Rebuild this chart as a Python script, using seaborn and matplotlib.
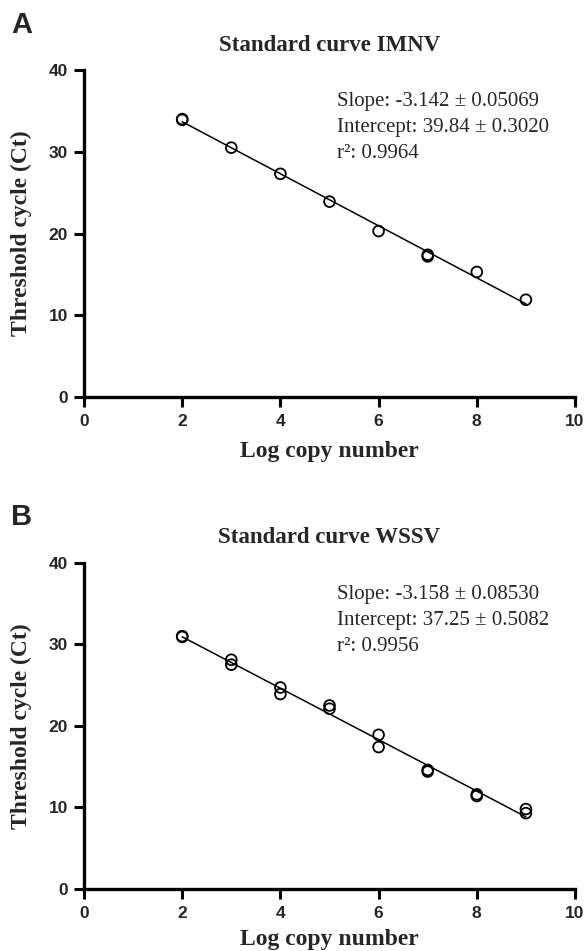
import numpy as np
import pandas as pd
import matplotlib
matplotlib.use("Agg")
import matplotlib.pyplot as plt
import seaborn as sns

### DATA

log_copy_imnv = [2, 2, 3, 4, 5, 6, 7, 7, 8, 9]
ct_imnv = [33.9, 34.0, 30.5, 27.3, 23.9, 20.3, 17.4, 17.2, 15.3, 11.9]

log_copy_wssv = [2, 2, 3, 3, 4, 4, 5, 5, 6, 6, 7, 7, 8, 8, 9, 9]
ct_wssv = [31.0, 30.9, 28.1, 27.5, 24.7, 23.9, 22.5, 22.1,
           18.9, 17.4, 14.6, 14.4, 11.6, 11.4, 9.8, 9.3]

panels = ["A", "B"]
titles = ["Standard curve IMNV", "Standard curve WSSV"]
fit_text = [
    ["Slope: -3.142 ± 0.05069", "Intercept: 39.84 ± 0.3020", "r²: 0.9964"],
    ["Slope: -3.158 ± 0.08530", "Intercept: 37.25 ± 0.5082", "r²: 0.9956"],
]
xticks = [0, 2, 4, 6, 8, 10]
yticks = [0, 10, 20, 30, 40]

### STYLE

sns.set_style("ticks")
plt.rcParams["font.family"] = ["Liberation Serif", "DejaVu Serif"]

serif = "Liberation Serif"
sans = "Liberation Sans"
tick_font = dict(family=sans, fontweight="bold", fontsize=12.5)

fig = plt.figure(figsize=(5.85, 9.51), dpi=100)

axes_rects = [
    [0.1436, 0.5825, 0.8393, 0.3439],
    [0.1436, 0.0652, 0.8393, 0.3431],
]
letter_y = [0.9653, 0.448]
xlabel_y = [-0.134, -0.124]

datasets = [(log_copy_imnv, ct_imnv), (log_copy_wssv, ct_wssv)]

for i, (xs, ys) in enumerate(datasets):
    ax = fig.add_axes(axes_rects[i])
    df = pd.DataFrame({"log_copy": xs, "ct": ys})
    sns.regplot(data=df, x="log_copy", y="ct", ax=ax, ci=None, color="black",
                truncate=True,
                scatter_kws=dict(facecolors="none", s=60, linewidths=1.3, alpha=1, zorder=3),
                line_kws=dict(lw=1.1, color="black"))

    ax.set_xlim(0, 10)
    ax.set_ylim(0, 40)
    ax.set_xticks(xticks, labels=[str(t) for t in xticks], **tick_font)
    ax.set_yticks(yticks, labels=[str(t) for t in yticks], **tick_font)
    for sp in ["top", "right"]:
        ax.spines[sp].set_visible(False)
    for sp in ["left", "bottom"]:
        ax.spines[sp].set_linewidth(2.4)
        ax.spines[sp].set_color("black")
    ax.tick_params(axis="both", length=7.2, width=2.2, color="black")
    ax.tick_params(axis="x", pad=5)
    ax.tick_params(axis="y", pad=4.5)

    ax.set_xlabel("Log copy number", fontsize=17, fontweight="bold", family=serif)
    ax.set_ylabel("Threshold cycle (Ct)", fontsize=17, fontweight="bold", family=serif)
    ax.xaxis.set_label_coords(0.5, xlabel_y[i])
    ax.yaxis.set_label_coords(-0.106, 0.5)
    ax.set_title(titles[i], fontsize=16.5, fontweight="bold", family=serif, pad=14)

    # fit statistics
    for j, line in enumerate(fit_text[i]):
        ax.text(5.15, 36.1 - 3.18 * j, line, fontsize=15, family=serif,
                va="center", ha="left")

    fig.text(0.019, letter_y[i], panels[i], fontsize=21, fontweight="bold",
             family=sans, va="baseline", ha="left")

fig.savefig("out.png", dpi=100)
